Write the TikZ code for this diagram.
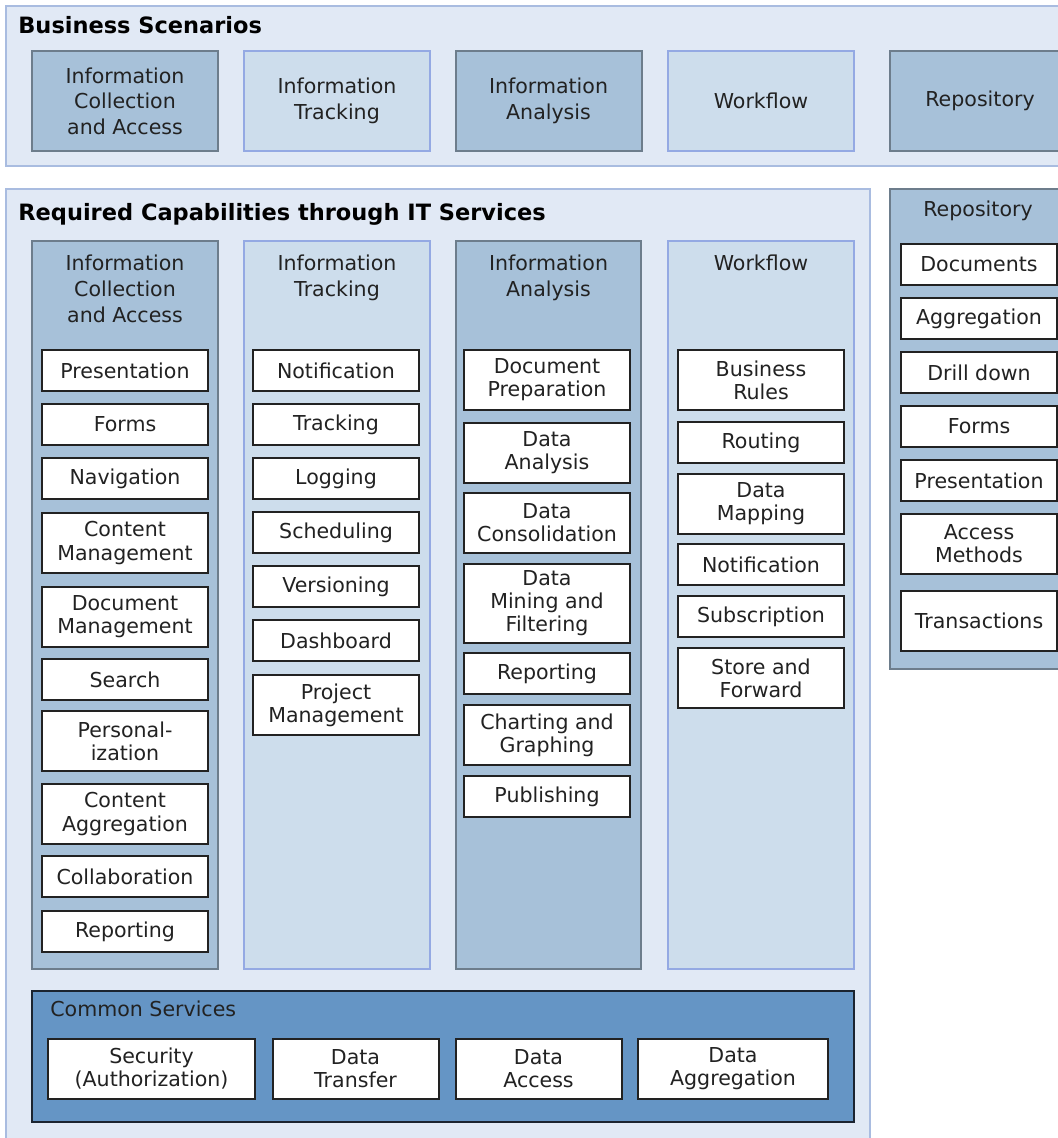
\documentclass[tikz,border=0pt]{standalone}
\usepackage{fontspec}
\setmainfont{DejaVu Sans}
\usetikzlibrary{positioning}

\newlength\px \setlength\px{0.02cm}
\definecolor{panelbg}{HTML}{E1E9F5}
\definecolor{panelline}{HTML}{A9BCE0}
\definecolor{darkbg}{HTML}{A7C1D9}
\definecolor{darkline}{HTML}{6D7D8C}
\definecolor{lightbg}{HTML}{CDDDEC}
\definecolor{lightline}{HTML}{94A9E3}
\definecolor{commonbg}{HTML}{6595C5}
\definecolor{commonline}{HTML}{1B2430}
\definecolor{itemline}{HTML}{222222}
\definecolor{txt}{HTML}{222222}

\begin{document}
\begin{tikzpicture}[x=0.02cm, y=-0.02cm, node distance=11\px,
  every node/.style={font=\fontsize{11.7}{14.6}\selectfont, text=txt},
  panel/.style={draw=panelline, fill=panelbg, line width=2\px},
  darkcol/.style={draw=darkline, fill=darkbg, line width=2\px},
  lightcol/.style={draw=lightline, fill=lightbg, line width=2\px},
  common/.style={draw=commonline, fill=commonbg, line width=2\px},
  heading/.style={font=\fontsize{12.8}{15}\selectfont\bfseries, text=black, inner sep=0, anchor=base west},
  coltitle/.style={inner sep=0, anchor=north, align=center},
  item/.style={draw=itemline, fill=white, line width=2\px, minimum width=166\px, minimum height=41\px, inner sep=0, align=center, font=\fontsize{11.7}{13.1}\selectfont},
  two/.style={minimum height=60\px},
  three/.style={minimum height=79\px},
  scen/.style={line width=2\px, minimum width=186\px, minimum height=100\px, inner sep=0, align=center}
]
\useasboundingbox (0,0) rectangle (1057,1138);

% business scenarios
\draw[panel] (6,6) rectangle (1070,166);
\node[heading] (bstitle) at (18,33.5) {Business Scenarios};
\node[scen, darkcol] (bs1) at (125,101) {Information\\Collection\\and Access};
\node[scen, lightcol] (bs2) at (337,101) {Information\\Tracking};
\node[scen, darkcol] (bs3) at (548.5,101) {Information\\Analysis};
\node[scen, lightcol] (bs4) at (761,101) {Workflow};
\node[scen, darkcol, minimum width=180\px] (bs5) at (980,101) {Repository};

% required capabilities
\draw[panel] (6,189) rectangle (870,1150);
\node[heading] (rctitle) at (18,220.5) {Required Capabilities through IT Services};

\draw[darkcol] (32,241) rectangle (218,969);
\draw[lightcol] (244,241) rectangle (430,969);
\draw[darkcol] (456,241) rectangle (641,969);
\draw[lightcol] (668,241) rectangle (854,969);

\node[coltitle] (t1) at (125,255) {Information\\Collection\\and Access};
\node[coltitle] (t2) at (337,255) {Information\\Tracking};
\node[coltitle] (t3) at (548.5,255) {Information\\Analysis};
\node[coltitle] (t4) at (761,255) {Workflow};

% column 1
\node[item, anchor=north] (ca1) at (125,349) {Presentation};
\node[item, below=of ca1] (ca2) {Forms};
\node[item, below=of ca2] (ca3) {Navigation};
\node[item, two, below=12\px of ca3] (ca4) {Content\\Management};
\node[item, two, below=12\px of ca4] (ca5) {Document\\Management};
\node[item, below=10\px of ca5] (ca6) {Search};
\node[item, two, below=9\px of ca6] (ca7) {Personal-\\ization};
\node[item, two, below=of ca7] (ca8) {Content\\Aggregation};
\node[item, below=10\px of ca8] (ca9) {Collaboration};
\node[item, below=12\px of ca9] (ca10) {Reporting};

% column 2
\node[item, anchor=north] (tr1) at (336,349) {Notification};
\node[item, below=of tr1] (tr2) {Tracking};
\node[item, below=of tr2] (tr3) {Logging};
\node[item, below=of tr3] (tr4) {Scheduling};
\node[item, below=of tr4] (tr5) {Versioning};
\node[item, below=of tr5] (tr6) {Dashboard};
\node[item, two, below=12\px of tr6] (tr7) {Project\\Management};

% column 3
\node[item, two, anchor=north] (an1) at (547,349) {Document\\Preparation};
\node[item, two, below=of an1] (an2) {Data\\Analysis};
\node[item, two, below=8\px of an2] (an3) {Data\\Consolidation};
\node[item, three, below=9\px of an3] (an4) {Data\\Mining and\\Filtering};
\node[item, below=8\px of an4] (an5) {Reporting};
\node[item, two, below=9\px of an5] (an6) {Charting and\\Graphing};
\node[item, below=9\px of an6] (an7) {Publishing};

% column 4
\node[item, two, anchor=north] (wf1) at (761,349) {Business\\Rules};
\node[item, below=10\px of wf1] (wf2) {Routing};
\node[item, two, below=9\px of wf2] (wf3) {Data\\Mapping};
\node[item, below=8\px of wf3] (wf4) {Notification};
\node[item, below=9\px of wf4] (wf5) {Subscription};
\node[item, two, below=9\px of wf5] (wf6) {Store and\\Forward};

% common services
\draw[common] (32,991) rectangle (854,1122);
\node[inner sep=0, anchor=base west] (cstitle) at (50,1016.5) {Common Services};
\node[item, two, minimum width=207\px] (cs1) at (151.5,1068.5) {Security\\(Authorization)};
\node[item, two] (cs2) at (355.5,1068.5) {Data\\Transfer};
\node[item, two] (cs3) at (538.5,1068.5) {Data\\Access};
\node[item, two, minimum width=190\px] (cs4) at (733,1068.5) {Data\\Aggregation};

% repository
\draw[darkcol] (890,189) rectangle (1070,669);
\node[inner sep=0, anchor=base] (rptitle) at (978,216.5) {Repository};
\node[item, minimum width=156\px, anchor=north] (rp1) at (979,243) {Documents};
\node[item, minimum width=156\px, below=of rp1] (rp2) {Aggregation};
\node[item, minimum width=156\px, below=of rp2] (rp3) {Drill down};
\node[item, minimum width=156\px, below=of rp3] (rp4) {Forms};
\node[item, minimum width=156\px, below=of rp4] (rp5) {Presentation};
\node[item, two, minimum width=156\px, below=of rp5] (rp6) {Access\\Methods};
\node[item, two, minimum width=156\px, below=15\px of rp6] (rp7) {Transactions};
\end{tikzpicture}
\end{document}
